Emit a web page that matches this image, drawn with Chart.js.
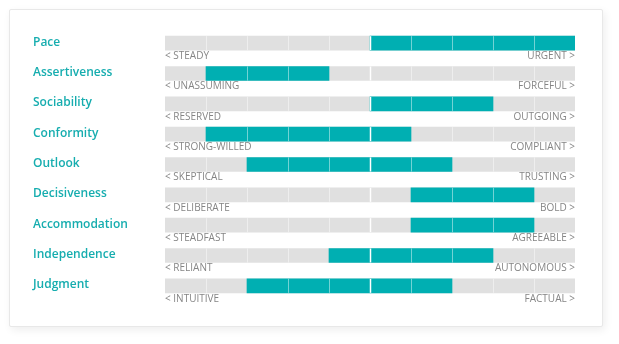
<!DOCTYPE html>
<html>
<head>
<meta charset="utf-8">
<script src="https://cdn.jsdelivr.net/npm/chart.js@4/dist/chart.umd.min.js"></script>
<style>
  html, body { margin: 0; padding: 0; background: #fff; }
  #card {
    position: absolute; left: 9px; top: 9px; width: 592px; height: 316px;
    background: #fff; border: 1px solid #e8e8e8; border-radius: 2px;
    box-shadow: 2px 3px 8px rgba(0,0,0,0.07);
  }
  #wrap { position: absolute; left: 0; top: 0; width: 619px; height: 344px; }
</style>
</head>
<body>
<div id="card"></div>
<div id="wrap"><canvas id="grafico" width="619" height="344"></canvas></div>
<script>
// traits and the range each score covers on a 0-10 scale
const traits = ["Pace", "Assertiveness", "Sociability", "Conformity", "Outlook",
                "Decisiveness", "Accommodation", "Independence", "Judgment"];
const rangeStart = [5, 1, 5, 1, 2, 6, 6, 4, 2];
const rangeEnd   = [10, 4, 8, 6, 7, 9, 9, 8, 7];
const leftLabels  = ["< STEADY", "< UNASSUMING", "< RESERVED", "< STRONG-WILLED", "< SKEPTICAL",
                     "< DELIBERATE", "< STEADFAST", "< RELIANT", "< INTUITIVE"];
const rightLabels = ["URGENT >", "FORCEFUL >", "OUTGOING >", "COMPLIANT >", "TRUSTING >",
                     "BOLD >", "AGREEABLE >", "AUTONOMOUS >", "FACTUAL >"];
const scaleMax = 10;

const teal = '#00AFB2';
const gray = '#E0E0E0';

// white dividers between the ten segments, drawn on top of the bars
const divisorias = {
    id: 'divisorias',
    afterDatasetsDraw(chart) {
        const c = chart.ctx;
        const x = chart.scales.x;
        const y = chart.scales.y;
        c.save();
        traits.forEach((t, i) => {
            const cy = y.getPixelForValue(i);
            for (let v = 1; v < scaleMax; v++) {
                // skip the edges of the teal range
                if ((v === rangeStart[i] || v === rangeEnd[i]) && v !== scaleMax / 2) continue;
                const px = Math.round(x.getPixelForValue(v)) + 0.5;
                c.strokeStyle = v === scaleMax / 2 ? '#ffffff' : 'rgba(255,255,255,0.45)';
                c.lineWidth = v === scaleMax / 2 ? 1.5 : 1;
                c.beginPath();
                c.moveTo(px, cy - 7);
                c.lineTo(px, cy + 7);
                c.stroke();
            }
        });
        c.restore();
    }
};

// trait names on the left and the two ends of each scale under the bar
const rotulos = {
    id: 'rotulos',
    afterDraw(chart) {
        const c = chart.ctx;
        const x = chart.scales.x;
        const y = chart.scales.y;
        const x0 = x.getPixelForValue(0);
        const x1 = x.getPixelForValue(scaleMax);
        c.save();
        c.textBaseline = 'middle';
        traits.forEach((t, i) => {
            const cy = y.getPixelForValue(i);
            c.fillStyle = '#16ADAF';
            c.font = '600 12px "Open Sans"';
            c.textAlign = 'left';
            c.fillText(t, 33, cy - 1);
            c.fillStyle = '#858585';
            c.font = '10px "Open Sans"';
            c.fillText(leftLabels[i], x0, cy + 13);
            c.textAlign = 'right';
            c.fillText(rightLabels[i], x1, cy + 13);
        });
        c.restore();
    }
};

const ctx = document.getElementById('grafico').getContext('2d');

new Chart(ctx, {
    type: 'bar',
    data: {
        labels: traits,
        datasets: [
            {
                label: 'score',
                data: traits.map((t, i) => [rangeStart[i], rangeEnd[i]]),
                backgroundColor: teal,
                barThickness: 14,
                grouped: false,
                order: 0
            },
            {
                label: 'scale',
                data: traits.map(() => [0, scaleMax]),
                backgroundColor: gray,
                barThickness: 14,
                grouped: false,
                order: 1
            }
        ]
    },
    options: {
        indexAxis: 'y',
        responsive: false,
        animation: false,
        layout: {
            padding: { left: 165, right: 44, top: 28, bottom: 43 }
        },
        plugins: {
            legend: { display: false },
            tooltip: { enabled: false }
        },
        scales: {
            x: { display: false, min: 0, max: scaleMax },
            y: { display: false }
        }
    },
    plugins: [divisorias, rotulos]
});
</script>
</body>
</html>
